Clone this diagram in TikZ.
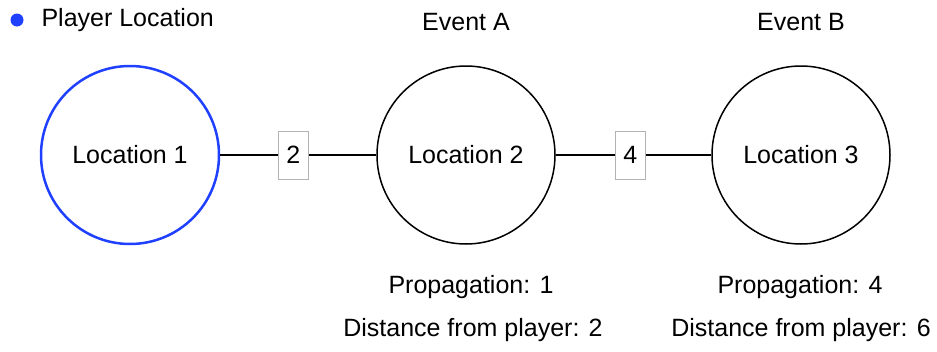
\documentclass[tikz,border=0pt]{standalone}
\usepackage{fontspec}
\setmainfont{Liberation Sans}
\definecolor{playerblue}{RGB}{32,64,255}
\begin{document}
\begin{tikzpicture}[x=1pt, y=-1pt, font=\fontsize{25}{30}\selectfont,
  location/.style={draw, circle, line width=1.5pt, minimum size=178pt, inner sep=0pt},
  weight/.style={draw=gray!60, line width=1pt, fill=white, minimum width=30pt, minimum height=48pt, inner sep=0pt}]
\useasboundingbox (0,0) rectangle (937,351);

% Legend
\fill[playerblue] (17,20) circle (6.5pt);
\node[anchor=west] (legend) at (38,20) {Player Location};

% Locations
\node[location, draw=playerblue, line width=2.5pt] (loc1) at (130,155) {Location 1};
\node[location] (loc2) at (466,155) {Location 2};
\node[location] (loc3) at (801,155) {Location 3};

% Connections with distances
\draw[line width=1.2pt] (loc1) -- (loc2) node[weight, pos=0.468] (w12) {2};
\draw[line width=1.2pt] (loc2) -- (loc3) node[weight, pos=0.48] (w23) {4};

% Events above
\node (eventA) at (466,22) {Event A};
\node (eventB) at (801,22) {Event B};

% Info below
\node (propA) at (471,287) {Propagation: 1};
\node (distA) at (473,330) {Distance from player: 2};
\node (propB) at (800,287) {Propagation: 4};
\node (distB) at (801,330) {Distance from player: 6};

\end{tikzpicture}
\end{document}
